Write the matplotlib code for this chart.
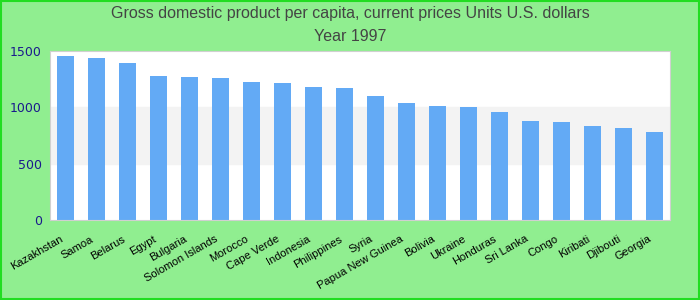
import matplotlib
matplotlib.use('Agg')
import matplotlib.pyplot as plt
import matplotlib.transforms as mtransforms
import numpy as np

countries = ['Kazakhstan', 'Samoa', 'Belarus', 'Egypt', 'Bulgaria', 'Solomon Islands',
             'Morocco', 'Cape Verde', 'Indonesia', 'Philippines', 'Syria',
             'Papua New Guinea', 'Bolivia', 'Ukraine', 'Honduras', 'Sri Lanka',
             'Congo', 'Kiribati', 'Djibouti', 'Georgia']
gdp = [1455, 1437, 1393, 1278, 1269, 1260, 1224, 1216, 1180, 1171, 1100,
       1038, 1012, 1003, 958, 878, 870, 834, 816, 781]
y_ticks = [0, 500, 1000, 1500]

fig = plt.figure(figsize=(7, 3), dpi=100, facecolor='#90ee90')
ax = fig.add_axes([50/700, 80/300, 620/700, 169/300])
ax.set_facecolor('white')

# grey band between 500 and 1000
ax.axhspan(500, 1000, color='#f3f3f3', zorder=0)

x = np.arange(len(countries))
ax.bar(x, gdp, width=0.55, color='#63aaf5', zorder=2)

ax.set_xlim(-0.5, len(countries) - 0.5)
ax.set_ylim(0, 1500)
ax.set_yticks(y_ticks)
ax.set_yticklabels([str(v) for v in y_ticks], color='#1a1a8c', fontsize=9)
ax.set_xticks(x)
ax.set_xticklabels(countries, rotation=30, ha='right', rotation_mode='anchor',
                   fontsize=8, family='Liberation Sans')
ax.tick_params(axis='both', length=0, pad=6)
ax.tick_params(axis='x', pad=10)

# nudge x labels a bit to the left
offset = mtransforms.ScaledTranslation(-6/100, 0, fig.dpi_scale_trans)
for lbl in ax.get_xticklabels():
    lbl.set_transform(lbl.get_transform() + offset)

for s in ax.spines.values():
    s.set_color('#d0d0d0')

fig.text(0.5, 0.955, 'Gross domestic product per capita, current prices Units U.S. dollars',
         ha='center', va='center', fontsize=11.5, color='#444444', family='Liberation Sans')
fig.text(0.5, 0.878, 'Year 1997', ha='center', va='center', fontsize=11.5,
         color='#444444', family='Liberation Sans')

# outer green frame
fig.patches.append(plt.Rectangle((0.001, 0.002), 0.997, 0.995, transform=fig.transFigure,
                                 fill=False, edgecolor='#22dd22', linewidth=1.5))

fig.savefig('out.png', dpi=100, facecolor=fig.get_facecolor())
